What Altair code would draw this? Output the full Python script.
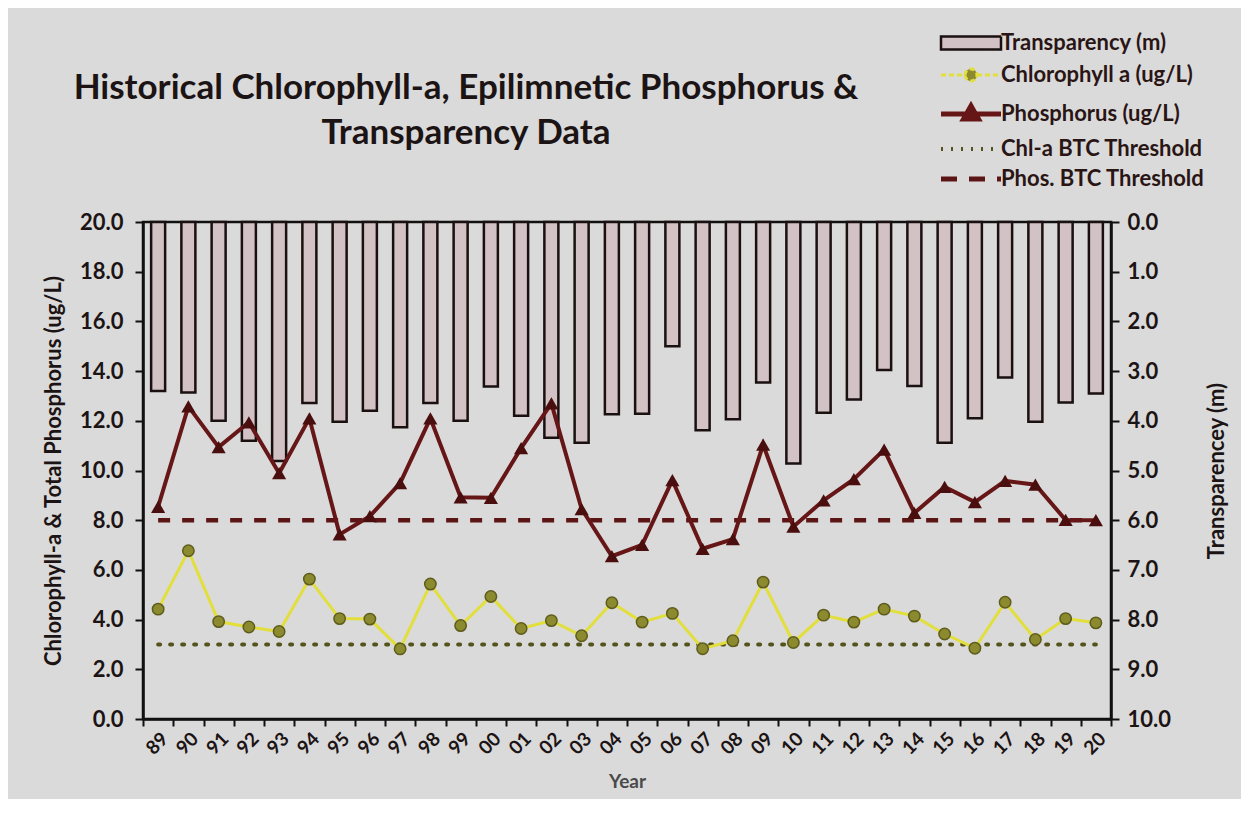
import altair as alt
import pandas as pd

# ---------------- data ----------------
years = ["89", "90", "91", "92", "93", "94", "95", "96", "97", "98", "99",
         "00", "01", "02", "03", "04", "05", "06", "07", "08", "09", "10",
         "11", "12", "13", "14", "15", "16", "17", "18", "19", "20"]

transparency = [3.40, 3.43, 4.00, 4.40, 4.81, 3.64, 4.02, 3.80, 4.13, 3.64, 4.00,
                3.31, 3.90, 4.34, 4.44, 3.87, 3.86, 2.50, 4.19, 3.97, 3.23, 4.86,
                3.84, 3.57, 2.98, 3.30, 4.44, 3.95, 3.13, 4.02, 3.63, 3.45]

chlorophyll = [4.42, 6.77, 3.92, 3.70, 3.52, 5.63, 4.04, 4.02, 2.82, 5.43, 3.76,
               4.93, 3.64, 3.96, 3.35, 4.68, 3.90, 4.25, 2.83, 3.15, 5.51, 3.08,
               4.18, 3.90, 4.42, 4.14, 3.42, 2.85, 4.70, 3.20, 4.04, 3.87]

phosphorus = [8.54, 12.58, 10.94, 11.94, 9.89, 12.10, 7.43, 8.16, 9.49, 12.10, 8.92,
              8.90, 10.90, 12.70, 8.45, 6.55, 7.01, 9.61, 6.85, 7.24, 11.04, 7.74,
              8.80, 9.65, 10.84, 8.29, 9.34, 8.73, 9.58, 9.43, 8.01, 8.00]

chl_threshold = 3.0
phos_threshold = 8.0

series_names = ["Transparency (m)", "Chlorophyll a (ug/L)", "Phosphorus (ug/L)",
                "Chl-a BTC Threshold", "Phos. BTC Threshold"]

left_ticks = [0, 2, 4, 6, 8, 10, 12, 14, 16, 18, 20]
right_ticks = [0, 1, 2, 3, 4, 5, 6, 7, 8, 9, 10]

title_lines = ["Historical Chlorophyll-a, Epilimnetic Phosphorus &", "Transparency Data"]
left_title = "Chlorophyll-a & Total Phosphorus (ug/L)"
right_title = "Transparencey (m)"
x_title = "Year"

# ---------------- colours ----------------
BAR_FILL = "#d2c2c5"
BAR_EDGE = "#1a1010"
CHL_LINE = "#e2df3c"
CHL_DOT = "#8c8a2e"
PHOS_LINE = "#661616"
PHOS_TRI = "#4a0e0e"
CHL_THR = "#55531c"
PHOS_THR = "#5c1515"

# ---------------- table ----------------
n = len(years)
df = pd.DataFrame({
    "year": years,
    "trans": transparency,
    "chl": chlorophyll,
    "phos": phosphorus,
    "chl_t": [chl_threshold] * n,
    "phos_t": [phos_threshold] * n,
})
legend_df = pd.DataFrame({"series": series_names, "year": [years[0]] * len(series_names),
                          "chl": [chlorophyll[0]] * len(series_names)})

FONT = "Lato"
INK = "#1c1414"

T, C, P, CT, PT = series_names


def sel(mapping, default):
    expr = default
    for k, v in reversed(list(mapping.items())):
        expr = f"datum.value === '{k}' ? {v} : ({expr})"
    return alt.ExprRef(expr=expr)


# legend symbol outlines (unit = sqrt(symbolSize)/2 px)
legend_shapes = [
    "M-2,-0.44H2V0.44H-2Z",
    "M-2,0H-0.4M0.4,0H2M-0.4,0A0.4,0.4 0 1,1 0.4,0A0.4,0.4 0 1,1 -0.4,0Z",
    "M-2,0H2M0,-0.54L0.5,0.34H-0.5Z",
    "M-2,0H2",
    "M-2,0H2",
]

legend = alt.Legend(
    title=None,
    orient="none",
    legendX=817,
    legendY=-190,
    padding=0,
    symbolSize=900,
    symbolStrokeWidth=sel({T: "2.5", C: "3", CT: "4"}, "5"),
    symbolDash=sel({C: "[5, 3]", CT: "[2, 8]", PT: "[16, 12]"}, "[1, 0]"),
    labelFont=FONT,
    labelFontSize=22,
    labelFontWeight="bold",
    labelColor="#2a1515",
    labelOffset=19,
    rowPadding=8,
    labelLimit=400,
)

x = alt.X("year:O", sort=years,
          scale=alt.Scale(paddingInner=0, paddingOuter=0),
          axis=alt.Axis(title=x_title, labelAngle=-45, tickBand="extent",
                        tickSize=7, labelFontSize=19, labelPadding=3,
                        titleFontSize=19, titleColor="#4a4a4a", titlePadding=14))

base = alt.Chart(df)

bars = base.mark_bar(
    size=14, fill=BAR_FILL, stroke=BAR_EDGE, strokeWidth=2.5, strokeOpacity=1, opacity=1
).encode(
    x=x,
    y=alt.Y("trans:Q",
            scale=alt.Scale(domain=[0, 10], reverse=True, nice=False),
            axis=alt.Axis(orient="right", title=right_title, values=right_ticks,
                          format=".1f", titleAngle=270, titlePadding=58,
                          labelPadding=8)),
)


def yl(f):
    return alt.Y(f"{f}:Q", scale=alt.Scale(domain=[0, 20], nice=False),
                 axis=alt.Axis(orient="left", title=left_title, values=left_ticks,
                               format=".1f", labelPadding=12, titlePadding=14))


chl_line = base.mark_line(color=CHL_LINE, strokeWidth=3).encode(x=x, y=yl("chl"))
chl_pts = base.mark_point(shape="circle", filled=True, size=130, fill=CHL_DOT,
                          stroke="#5e5c1c", strokeWidth=1.5, opacity=1).encode(
    x=x, y=yl("chl"))
phos_line = base.mark_line(color=PHOS_LINE, strokeWidth=4).encode(x=x, y=yl("phos"))
phos_pts = base.mark_point(shape="triangle-up", filled=True, size=200,
                           fill=PHOS_TRI, opacity=1).encode(x=x, y=yl("phos"))
chl_thr = base.mark_line(color=CHL_THR, strokeWidth=4, strokeDash=[2, 10],
                         strokeCap="round").encode(x=x, y=yl("chl_t"))
phos_thr = base.mark_line(color=PHOS_THR, strokeWidth=4.5,
                          strokeDash=[12, 12]).encode(x=x, y=yl("phos_t"))

# legend-only layer: its points are invisible (size 0, transparent), the legend comes
# from the shape scale and picks its colours per entry
legend_layer = alt.Chart(legend_df).mark_point(
    filled=True,
    size=0,
    opacity=1,
    fill=sel({T: f"'{BAR_FILL}'", C: f"'{CHL_DOT}'", P: f"'{PHOS_TRI}'"}, "'transparent'"),
    stroke=sel({T: f"'{BAR_EDGE}'", C: f"'{CHL_LINE}'", P: f"'{PHOS_LINE}'",
                CT: f"'{CHL_THR}'", PT: f"'{PHOS_THR}'"}, "'transparent'"),
).encode(
    x=x, y=yl("chl"),
    shape=alt.Shape("series:N", scale=alt.Scale(domain=series_names, range=legend_shapes),
                    legend=legend),
)

lines = alt.layer(legend_layer, chl_thr, phos_thr, chl_line, phos_line, chl_pts, phos_pts)

chart = alt.layer(bars, lines).resolve_scale(y="independent").properties(
    width=968,
    height=497,
    padding={"left": 135, "top": 214, "right": 130, "bottom": 80},
    autosize=alt.AutoSizeParams(type="none"),
    background="#dadada",
    title=alt.TitleParams(text=title_lines, anchor="middle", frame="group",
                          dx=-161, dy=178, fontSize=35, font=FONT, fontWeight="bold",
                          color=INK, lineHeight=45, offset=59),
).configure_view(
    stroke="#111111", strokeWidth=2.5
).configure_axis(
    labelFont=FONT, titleFont=FONT, labelFontWeight="bold", titleFontWeight="bold",
    labelColor=INK, titleColor=INK, labelFontSize=22, titleFontSize=22,
    domainColor="#111111", domainWidth=2.5, tickColor="#111111", tickWidth=2,
    tickSize=8, grid=False
)

chart.save("out.html", embed_options={"renderer": "svg", "actions": False})
